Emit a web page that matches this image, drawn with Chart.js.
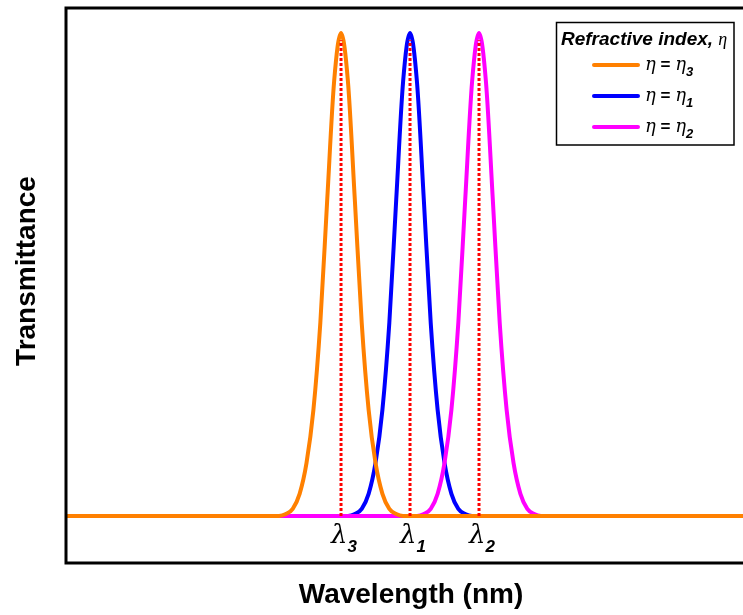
<!DOCTYPE html>
<html>
<head>
<meta charset="utf-8">
<script src="https://cdn.jsdelivr.net/npm/chart.js@4.4.1/dist/chart.umd.min.js"></script>
<style>
    html, body { margin: 0; padding: 0; background: #fff; }
    #wrap { width: 743px; height: 615px; position: relative; }
</style>
</head>
<body>
<div id="wrap"><canvas id="myChart"></canvas></div>
<script>
// wavelength grid (arbitrary units, no ticks on the axis)
var wavelength = [0, 30, 31, 32, 33, 34, 35, 36, 37, 38, 39, 40, 41, 42, 43, 44, 45, 46, 47, 48, 49,
    50, 51, 52, 53, 54, 55, 56, 57, 58, 59, 60, 61, 62, 63, 64, 65, 66, 67, 68, 69, 70, 99];

// transmittance
var transEta3 = [0, 0, 0, 0.004, 0.015, 0.046, 0.11, 0.22, 0.40, 0.655, 0.90, 1, 0.90, 0.655, 0.40, 0.22, 0.11, 0.046, 0.015, 0.004, 0,
    0, 0, 0, 0, 0, 0, 0, 0, 0, 0, 0, 0, 0, 0, 0, 0, 0, 0, 0, 0, 0, 0];
var transEta1 = [0, 0, 0, 0, 0, 0, 0, 0, 0, 0, 0, 0, 0, 0.004, 0.015, 0.046, 0.11, 0.22, 0.40, 0.655, 0.90,
    1, 0.90, 0.655, 0.40, 0.22, 0.11, 0.046, 0.015, 0.004, 0, 0, 0, 0, 0, 0, 0, 0, 0, 0, 0, 0, 0];
var transEta2 = [0, 0, 0, 0, 0, 0, 0, 0, 0, 0, 0, 0, 0, 0, 0, 0, 0, 0, 0, 0, 0,
    0, 0, 0.004, 0.015, 0.046, 0.11, 0.22, 0.40, 0.655, 0.90, 1, 0.90, 0.655, 0.40, 0.22, 0.11, 0.046, 0.015, 0.004, 0, 0, 0];

// peak positions and their labels
var peakWavelength = [40, 50, 60];
var peakTop = [0.985, 0.985, 0.985];
var peakSub = ['3', '1', '2'];

var legendTitle = 'Refractive index, ';
var legendSubs = ['3', '1', '2'];
var legendColors = ['#ff8000', '#0000ff', '#ff00ff'];

function toPoints(ys) {
    return wavelength.map(function (w, i) { return { x: w, y: ys[i] }; });
}

function drawRuns(ctx, x, y, runs, align) {
    var widths = runs.map(function (r) { ctx.font = r[1]; return ctx.measureText(r[0]).width; });
    var total = widths.reduce(function (a, b) { return a + b; }, 0);
    var cx = align === 'center' ? x - total / 2 : x;
    runs.forEach(function (r, i) {
        ctx.font = r[1];
        ctx.fillText(r[0], cx, y + r[2]);
        cx += widths[i];
    });
}

var decor = {
    id: 'decor',
    afterDraw: function (chart) {
        var ctx = chart.ctx;
        var area = chart.chartArea;
        var xs = chart.scales.x;
        ctx.save();

        // frame: top, left, bottom (right side runs off the picture)
        ctx.strokeStyle = '#000';
        ctx.lineWidth = 3;
        ctx.beginPath();
        ctx.moveTo(chart.width + 2, area.top);
        ctx.lineTo(area.left, area.top);
        ctx.lineTo(area.left, area.bottom);
        ctx.lineTo(chart.width + 2, area.bottom);
        ctx.stroke();

        ctx.fillStyle = '#000';
        ctx.textBaseline = 'alphabetic';

        // lambda labels under the peaks
        peakWavelength.forEach(function (w, i) {
            var px = xs.getPixelForValue(w) + 3;
            drawRuns(ctx, px, 543, [
                ['\u03bb', 'italic 26px "DejaVu Serif"', 0],
                [peakSub[i], 'italic bold 17px "Liberation Sans"', 9]
            ], 'center');
        });

        // axis titles
        ctx.textAlign = 'center';
        ctx.font = 'bold 28px "Liberation Sans"';
        ctx.fillText('Wavelength (nm)', 411, 603);
        ctx.save();
        ctx.translate(35, 271);
        ctx.rotate(-Math.PI / 2);
        ctx.fillText('Transmittance', 0, 0);
        ctx.restore();
        ctx.textAlign = 'left';

        // legend box
        ctx.fillStyle = '#fff';
        ctx.fillRect(556, 22, 178, 123);
        ctx.strokeStyle = '#000';
        ctx.lineWidth = 1.5;
        ctx.strokeRect(556.5, 22.5, 177.5, 122.5);
        ctx.fillStyle = '#000';
        drawRuns(ctx, 561, 45, [
            [legendTitle, 'italic bold 19px "Liberation Sans"', 0],
            ['\u03b7', 'italic 18px "Liberation Serif"', 0]
        ], 'left');
        legendSubs.forEach(function (s, i) {
            var ly = 65 + 31 * i;
            ctx.strokeStyle = legendColors[i];
            ctx.lineWidth = 4;
            ctx.lineCap = 'round';
            ctx.beginPath();
            ctx.moveTo(594, ly);
            ctx.lineTo(638, ly);
            ctx.stroke();
            drawRuns(ctx, 645, ly + 5, [
                ['\u03b7', 'italic 18px "DejaVu Serif"', 0],
                [' = ', 'bold 17px "Liberation Sans"', 0],
                ['\u03b7', 'italic 18px "DejaVu Serif"', 0],
                [s, 'italic bold 13px "Liberation Sans"', 6]
            ], 'left');
        });
        ctx.restore();
    }
};

var datasets = [];
peakWavelength.forEach(function (w, i) {
    datasets.push({
        data: [{ x: w, y: 0 }, { x: w, y: peakTop[i] }],
        borderColor: '#ff0000',
        borderWidth: 3,
        borderDash: [3, 2],
        pointRadius: 0,
        order: 0
    });
});
datasets.push({
    label: 'eta3',
    data: toPoints(transEta3),
    borderColor: legendColors[0],
    borderWidth: 4,
    cubicInterpolationMode: 'monotone',
    pointRadius: 0,
    order: 1
});
datasets.push({
    label: 'eta2',
    data: toPoints(transEta2),
    borderColor: legendColors[2],
    borderWidth: 4,
    cubicInterpolationMode: 'monotone',
    pointRadius: 0,
    order: 2
});
datasets.push({
    label: 'eta1',
    data: toPoints(transEta1),
    borderColor: legendColors[1],
    borderWidth: 4,
    cubicInterpolationMode: 'monotone',
    pointRadius: 0,
    order: 3
});

var ctx = document.getElementById('myChart').getContext('2d');
var myChart = new Chart(ctx, {
    type: 'line',
    data: { datasets: datasets },
    options: {
        responsive: true,
        maintainAspectRatio: false,
        animation: false,
        devicePixelRatio: 1,
        layout: { padding: { left: 66, top: 8, right: 0, bottom: 52 } },
        plugins: { legend: { display: false }, tooltip: { enabled: false } },
        scales: {
            x: { type: 'linear', display: false, min: 0.14, max: 98.26 },
            y: { display: false, min: -0.0973, max: 1.052 }
        }
    },
    plugins: [decor]
});
</script>
</body>
</html>
